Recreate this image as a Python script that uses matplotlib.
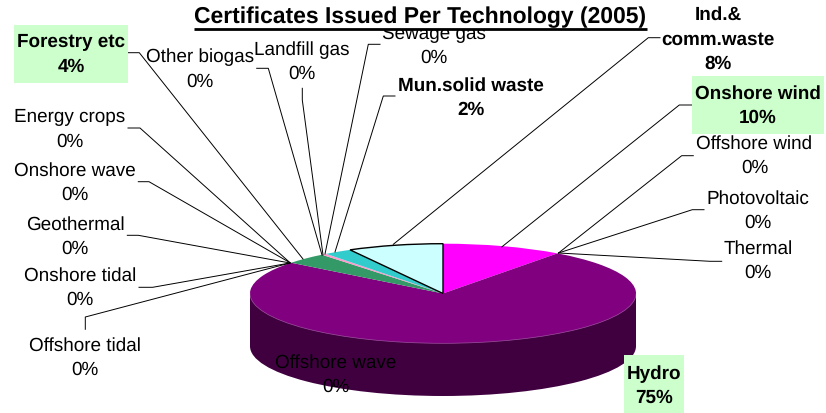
import matplotlib
matplotlib.use('Agg')
import matplotlib.pyplot as plt
from matplotlib.patches import Ellipse, Rectangle, Arc

plt.rcParams['font.family'] = ['Liberation Sans', 'DejaVu Sans']
plt.rcParams['text.hinting'] = 'no_hinting'

# slices, clockwise from 12 o'clock
names = ['Onshore wind', 'Offshore wind', 'Photovoltaic', 'Thermal', 'Hydro', 'Offshore wave',
         'Offshore tidal', 'Onshore tidal', 'Geothermal', 'Onshore wave', 'Energy crops',
         'Forestry etc', 'Other biogas', 'Landfill gas', 'Sewage gas', 'Mun.solid waste',
         'Ind.&\ncomm.waste']
shares = [10.1, 0, 0, 0, 75.5, 0, 0, 0, 0, 0, 0, 3.6, 0, 0.45, 0, 2.35, 8.0]
percent = [10, 0, 0, 0, 75, 0, 0, 0, 0, 0, 0, 4, 0, 0, 0, 2, 8]
colors = ['#FF00FF', '#FFFF00', '#00FFFF', '#800000', '#800080', '#008080', '#0000FF', '#00CCFF',
          '#CCFFFF', '#CCFFCC', '#FFFF99', '#339966', '#99CCFF', '#FF99CC', '#CC99FF', '#33CCCC',
          '#CCFFFF']

W, H = 826, 413
fig = plt.figure(figsize=(W / 100, H / 100), dpi=100, facecolor='white')

# pie lives in its own axes, squashed to the ellipse
left, right, top, mid_bottom, bottom = 250, 636, 243.7, 343.3, 396
ry = (mid_bottom - top) / 2
depth = (bottom - mid_bottom) / ry
ax_pie = fig.add_axes([left / W, 1 - bottom / H, (right - left) / W, (bottom - top) / H])
wedges, _ = ax_pie.pie(shares, colors=colors, startangle=90, counterclock=False,
                       wedgeprops={'linewidth': 0})
ax_pie.set_aspect('auto')
ax_pie.set_xlim(-1, 1)
ax_pie.set_ylim(-1 - depth, 1)
ax_pie.axis('off')

# side wall
ax_pie.add_patch(Ellipse((0, -depth), 2, 2, fc='#400040', ec='none', zorder=0))
ax_pie.add_patch(Rectangle((-1, -depth), 2, depth, fc='#400040', ec='none', zorder=0))
ax_pie.add_patch(Arc((0, 0), 2, 2, theta1=180, theta2=360, color='#A050A0', lw=0.5, zorder=2))

# last slice is the selected one
wedges[-1].set_edgecolor('black')
wedges[-1].set_linewidth(1.0)
wedges[-1].set_zorder(3)

# overlay in pixel coordinates for labels
ax = fig.add_axes([0, 0, 1, 1], zorder=2)
ax.set_xlim(0, W)
ax.set_ylim(H, 0)
ax.axis('off')

# label centre x, y of the block
label_pos = [(758, 106), (754.5, 156), (758, 210.5), (758, 261), (654, 386), (336, 374.5),
             (85, 357.5), (80, 288), (75, 237), (75, 182.5), (70, 129.5),
             (71, 54.5), (200, 69.5), (302, 62), (434, 46), (471, 97.5), (718, 39.5)]
bold = ['Onshore wind', 'Hydro', 'Forestry etc', 'Mun.solid waste', 'Ind.&\ncomm.waste']

# leader lines
leaders = [
    [(692, 105), (679.3, 105), (501.7, 247)],
    [(693.3, 155.7), (681.7, 155.7), (558.5, 253)],
    [(704, 209.7), (692.3, 209.7), (558.5, 253)],
    [(721.7, 261.3), (710, 261.3), (558.5, 253)],
    [(138.3, 181.7), (149, 181.7), (290, 262.7)],
    [(127.3, 235.3), (138.3, 235.3), (290, 263)],
    [(139, 287.3), (152.7, 287.3), (290, 263)],
    [(85.3, 329.3), (85.3, 317), (290, 263)],
    [(128, 128), (140, 128), (290, 262.7)],
    [(128.3, 52.7), (139.3, 52.7), (303, 259)],
    [(256.7, 68.3), (268.3, 68.3), (322, 255)],
    [(302.3, 88.3), (302.3, 100), (323, 255)],
    [(380, 44.3), (368.3, 44.3), (325, 254)],
    [(395, 96), (383.3, 96), (335, 252)],
    [(660, 37.7), (648.3, 37.7), (393.3, 244.3)],
]
for pts in leaders:
    ax.plot([p[0] for p in pts], [p[1] for p in pts], color='black', lw=0.7, zorder=2)

# green boxes behind the highlighted labels
for x0, y0, x1, y1 in [(14, 25, 128, 83), (692, 76, 824, 134), (624, 355, 684, 413)]:
    ax.add_patch(Rectangle((x0, y0), x1 - x0, y1 - y0, fc='#CCFFCC', ec='none', zorder=3))

for name, pct, (x, y) in zip(names, percent, label_pos):
    weight = 'bold' if name in bold else 'normal'
    ax.text(x, y, f'{name}\n{pct}%', ha='center', va='center', fontsize=13.6, weight=weight,
            linespacing=1.47, zorder=4)

# title has a white background, it cuts the Sewage gas label
ax.add_patch(Rectangle((194, 0), 453, 30, fc='white', ec='none', zorder=5))
ax.text(420.5, 17.5, 'Certificates Issued Per Technology (2005)', ha='center', va='center',
        fontsize=16.45, weight='bold', zorder=6)
ax.plot([194, 647], [28.5, 28.5], color='black', lw=2, solid_capstyle='butt', zorder=6)

fig.savefig('out.png', dpi=100)
